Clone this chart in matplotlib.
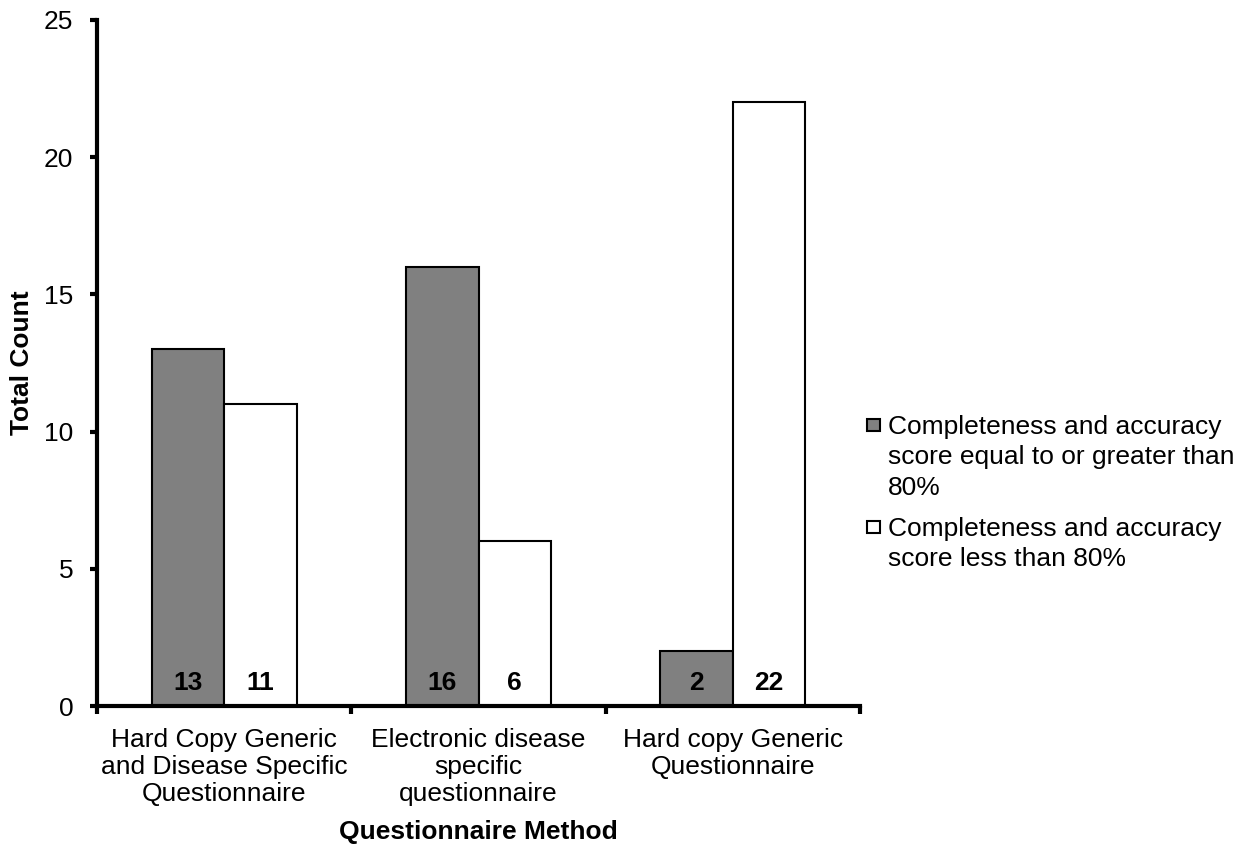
import matplotlib.pyplot as plt
from matplotlib.patches import Rectangle
import numpy as np

plt.rcParams['font.family'] = ['Liberation Sans', 'DejaVu Sans']

# questionnaire methods and counts per score group
methods = ['Hard Copy Generic\nand Disease Specific\nQuestionnaire',
           'Electronic disease\nspecific\nquestionnaire',
           'Hard copy Generic\nQuestionnaire']
high_score = [13, 16, 2]
low_score = [11, 6, 22]
series_names = ['Completeness and accuracy\nscore equal to or greater than\n80%',
                'Completeness and accuracy\nscore less than 80%']
series_colors = ['#808080', 'white']

FS = 19

fig = plt.figure(figsize=(12.51, 8.5), dpi=100)
ax = fig.add_axes([0.0775, 0.1694, 0.61, 0.8071])

x = np.arange(len(methods))
w = 0.285
b1 = ax.bar(x - w / 2, high_score, w, color=series_colors[0], edgecolor='black', linewidth=1.5)
b2 = ax.bar(x + w / 2, low_score, w, color=series_colors[1], edgecolor='black', linewidth=1.5)

# value labels near the bottom of each bar
for bars, vals in ((b1, high_score), (b2, low_score)):
    for r, v in zip(bars, vals):
        ax.text(r.get_x() + r.get_width() / 2, 0.85, str(v), ha='center', va='center',
                fontsize=FS, fontweight='bold')

ax.set_xlim(-0.5, 2.5)
ax.set_ylim(0, 25)
ax.set_yticks([0, 5, 10, 15, 20, 25])
ax.tick_params(axis='y', labelsize=FS, length=5, width=3, direction='out', pad=12)

# category boundaries get the tick marks, names sit in between
ax.set_xticks([-0.5, 0.5, 1.5, 2.5])
ax.set_xticklabels([])
ax.set_xticks(x, minor=True)
ax.set_xticklabels(methods, minor=True, fontsize=FS, linespacing=1.15, va='top')
ax.tick_params(axis='x', which='major', length=6, width=3, direction='out')
ax.tick_params(axis='x', which='minor', length=0, pad=16)

for s in ['top', 'right']:
    ax.spines[s].set_visible(False)
for s in ['left', 'bottom']:
    ax.spines[s].set_linewidth(3)

ax.set_ylabel('Total Count', fontsize=FS, fontweight='bold', labelpad=7)
ax.set_xlabel('Questionnaire Method', fontsize=FS, fontweight='bold', labelpad=10)

# legend: small square next to the first line of each entry
W, H = fig.get_size_inches() * fig.dpi
for i, (name, col) in enumerate(zip(series_names, series_colors)):
    ytop = [425, 527][i]
    fig.patches.append(Rectangle((867 / W, 1 - (ytop + 6) / H), 13 / W, 12 / H,
                                 transform=fig.transFigure, facecolor=col,
                                 edgecolor='black', linewidth=1.5))
    fig.text(888 / W, 1 - (ytop - 10) / H, name, fontsize=FS, va='top', ha='left',
             linespacing=1.33)

fig.savefig('out.png', dpi=100)
